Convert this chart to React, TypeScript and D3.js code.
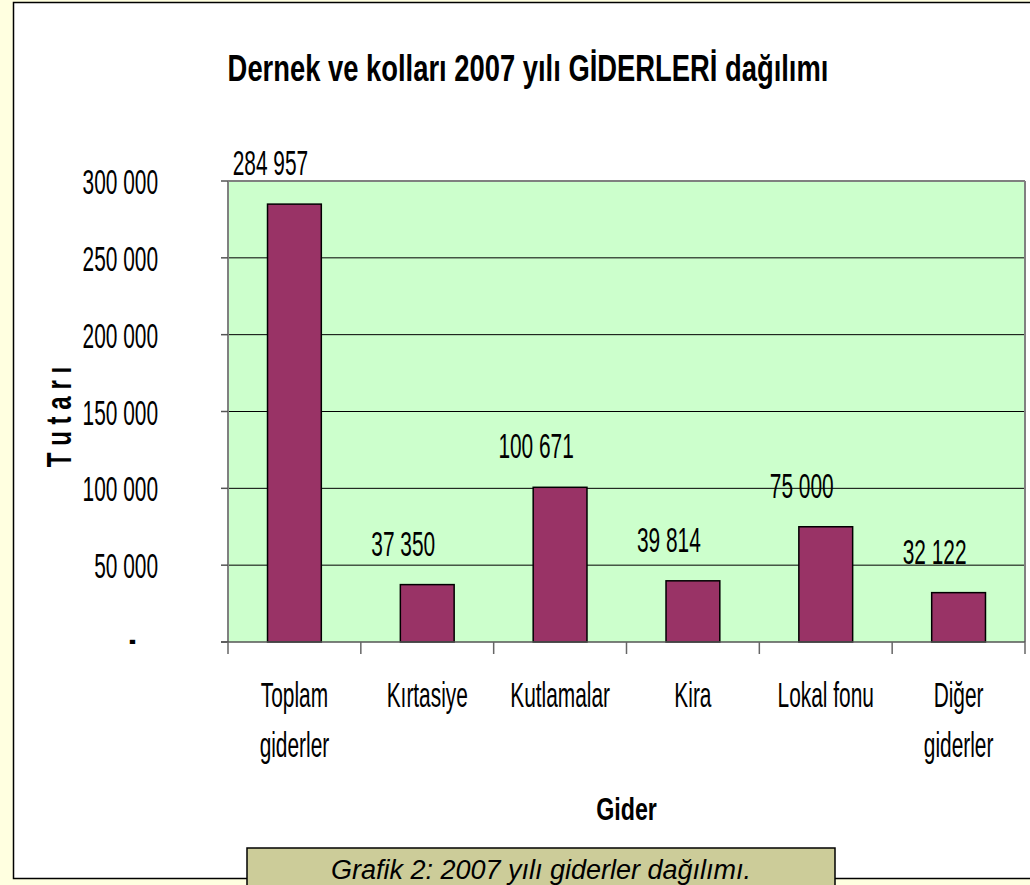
import React from "react";
import * as d3 from "d3";

const categories: string[][] = [
  ["Toplam", "giderler"],
  ["Kırtasiye"],
  ["Kutlamalar"],
  ["Kira"],
  ["Lokal fonu"],
  ["Diğer", "giderler"],
];
const values: number[] = [284957, 37350, 100671, 39814, 75000, 32122];
const yTicks: number[] = [0, 50000, 100000, 150000, 200000, 250000, 300000];
const title = "Dernek ve kolları 2007 yılı GİDERLERİ dağılımı";
const yAxisTitle = "T u t a r ı";
const xAxisTitle = "Gider";
const caption = "Grafik 2: 2007 yılı giderler dağılımı.";

const W = 1030;
const H = 885;
const FONT = "'Liberation Sans', Arial, Helvetica, sans-serif";
const SX = 0.58; // horizontal condensing of regular text
const SXB = 0.75; // horizontal condensing of bold text

const plot = { left: 228, right: 1025, top: 181, bottom: 642 };

const fmt = (v: number) => (v === 0 ? "-" : d3.format(",")(v).replace(/,/g, " "));

export default function App() {
  const ids = categories.map((_, i) => String(i));
  const xBand = d3.scaleBand<string>().domain(ids).range([plot.left, plot.right]).padding(0);
  const step = xBand.bandwidth();
  const barW = step * 0.405;
  const y = d3.scaleLinear().domain([0, 300000]).range([plot.bottom, plot.top]);

  return (
    <svg
      width={W}
      height={H}
      style={{ position: "absolute", left: 0, top: 0 }}
      fontFamily={FONT}
    >
      {/* page background */}
      <rect x={0} y={0} width={W} height={H} fill="#FFFFE0" />
      {/* chart frame */}
      <rect x={13.5} y={2.5} width={W + 20} height={876} fill="#ffffff" stroke="#000" strokeWidth={1.5} />

      {/* title */}
      <text
        transform={`translate(528,81) scale(0.74,1)`}
        textAnchor="middle"
        fontSize={37}
        fontWeight="bold"
        fill="#000"
      >
        {title}
      </text>

      {/* plot area */}
      <rect
        x={plot.left}
        y={plot.top}
        width={plot.right - plot.left}
        height={plot.bottom - plot.top}
        fill="#CCFFCC"
      />
      {/* gridlines */}
      {yTicks
        .filter((t) => t > 0 && t < 300000)
        .map((t) => (
          <line key={"g" + t} x1={plot.left} x2={plot.right} y1={y(t)} y2={y(t)} stroke="#000" strokeWidth={1} />
        ))}
      {/* plot border top/right */}
      <line x1={plot.left} x2={plot.right} y1={plot.top} y2={plot.top} stroke="#808080" strokeWidth={2} />
      <line x1={plot.right} x2={plot.right} y1={plot.top} y2={plot.bottom} stroke="#808080" strokeWidth={2} />

      {/* bars */}
      {values.map((v, i) => {
        const bx = (xBand(String(i)) as number) + (step - barW) / 2;
        return (
          <rect
            key={"b" + i}
            x={bx}
            y={y(v)}
            width={barW}
            height={y(0) - y(v)}
            fill="#993366"
            stroke="#000"
            strokeWidth={1.5}
          />
        );
      })}

      {/* y axis */}
      <line x1={plot.left} x2={plot.left} y1={plot.top} y2={plot.bottom} stroke="#808080" strokeWidth={2} />
      {yTicks.map((t) => (
        <g key={"yt" + t}>
          <line x1={plot.left - 7} x2={plot.left} y1={y(t)} y2={y(t)} stroke="#555" strokeWidth={1.5} />
          <text
            transform={`translate(${t === 0 ? 136 : 158},${y(t) + (t === 0 ? 9 : 13)}) scale(${SX},1)`}
            textAnchor="end"
            fontSize={36}
            fontWeight={t === 0 ? "bold" : "normal"}
            fill="#000"
          >
            {fmt(t)}
          </text>
        </g>
      ))}

      {/* x axis */}
      <line x1={plot.left - 7} x2={plot.right} y1={plot.bottom} y2={plot.bottom} stroke="#555" strokeWidth={1.5} />
      {d3.range(categories.length + 1).map((k) => {
        const tx = plot.left + k * step;
        return <line key={"xt" + k} x1={tx} x2={tx} y1={plot.bottom} y2={plot.bottom + 12} stroke="#666" strokeWidth={1.5} />;
      })}
      {categories.map((lines, i) => {
        const cx = (xBand(String(i)) as number) + step / 2;
        return lines.map((ln, j) => (
          <text
            key={"xl" + i + "-" + j}
            transform={`translate(${cx},${707 + j * 50}) scale(${SX},1)`}
            textAnchor="middle"
            fontSize={36}
            fill="#000"
          >
            {ln}
          </text>
        ));
      })}

      {/* value labels */}
      {values.map((v, i) => {
        const cx = (xBand(String(i)) as number) + step / 2 - 24;
        return (
          <text
            key={"vl" + i}
            transform={`translate(${cx},${y(v) - 29}) scale(${SX},1)`}
            textAnchor="middle"
            fontSize={36}
            fill="#000"
          >
            {fmt(v)}
          </text>
        );
      })}

      {/* axis titles */}
      <text
        transform={`translate(${(plot.left + plot.right) / 2},820) scale(${SXB},1)`}
        textAnchor="middle"
        fontSize={31}
        fontWeight="bold"
        fill="#000"
      >
        {xAxisTitle}
      </text>
      <text
        transform={`translate(71,417) rotate(-90) scale(0.67,1)`}
        textAnchor="middle"
        fontSize={36}
        fontWeight="bold"
        fill="#000"
      >
        {yAxisTitle}
      </text>

      {/* caption box */}
      <rect x={247} y={848} width={588} height={60} fill="#CCCC99" stroke="#000" strokeWidth={1.5} />
      <text x={541} y={879} textAnchor="middle" fontSize={27} fontStyle="italic" fill="#000">
        {caption}
      </text>
    </svg>
  );
}
